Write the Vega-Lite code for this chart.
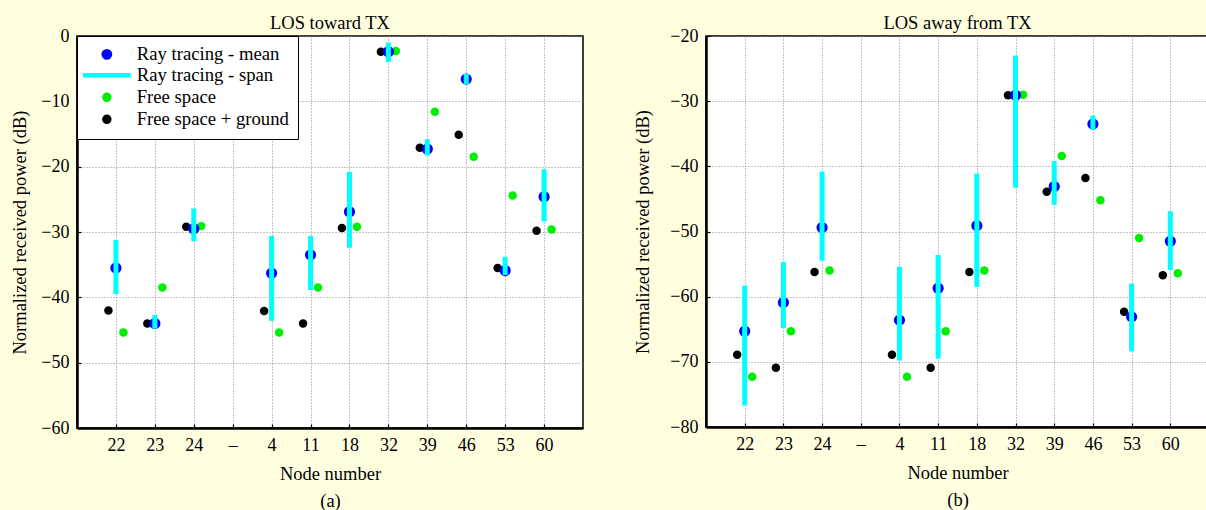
{
  "$schema": "https://vega.github.io/schema/vega-lite/v6.json",
  "background": "#FFFFE0",
  "padding": {"left": 10, "top": 12, "right": 0, "bottom": 0},
  "config": {
    "font": "Liberation Serif",
    "view": {"fill": "white", "stroke": "black", "strokeWidth": 1.5},
    "axis": {
      "labelFont": "Liberation Serif", "labelFontSize": 18, "labelColor": "black",
      "titleFont": "Liberation Serif", "titleFontSize": 18.5, "titleFontWeight": "normal", "titleColor": "black",
      "domainColor": "black", "domainWidth": 2.5, "ticks": true, "tickSize": -4, "tickColor": "black", "tickWidth": 1.2,
      "gridColor": "#8a8a8a", "gridDash": [1, 2], "gridWidth": 1, "labelPadding": 12
    },
    "title": {"font": "Liberation Serif", "fontSize": 18.5, "fontWeight": "normal", "color": "black", "offset": -5},
    "concat": {"spacing": 49}
  },
  "datasets": {
    "a": [
      {"node": "22", "mean": -35.5, "lo": -39.5, "hi": -31.2, "fs": -45.4, "fsg": -42.0},
      {"node": "23", "mean": -44.0, "lo": -44.8, "hi": -42.7, "fs": -38.5, "fsg": -44.0},
      {"node": "24", "mean": -29.5, "lo": -31.4, "hi": -26.4, "fs": -29.1, "fsg": -29.2},
      {"node": "4", "mean": -36.3, "lo": -43.6, "hi": -30.6, "fs": -45.4, "fsg": -42.1},
      {"node": "11", "mean": -33.5, "lo": -38.9, "hi": -30.6, "fs": -38.5, "fsg": -44.0},
      {"node": "18", "mean": -26.9, "lo": -32.4, "hi": -20.8, "fs": -29.2, "fsg": -29.4},
      {"node": "32", "mean": -2.4, "lo": -4.0, "hi": -1.0, "fs": -2.3, "fsg": -2.4},
      {"node": "39", "mean": -17.3, "lo": -18.3, "hi": -15.8, "fs": -11.6, "fsg": -17.1},
      {"node": "46", "mean": -6.6, "lo": -7.4, "hi": -5.8, "fs": -18.5, "fsg": -15.1},
      {"node": "53", "mean": -35.9, "lo": -36.6, "hi": -33.8, "fs": -24.4, "fsg": -35.5},
      {"node": "60", "mean": -24.6, "lo": -28.4, "hi": -20.4, "fs": -29.6, "fsg": -29.8}
    ],
    "b": [
      {"node": "22", "mean": -65.3, "lo": -76.7, "hi": -58.3, "fs": -72.3, "fsg": -68.9},
      {"node": "23", "mean": -60.9, "lo": -64.8, "hi": -54.7, "fs": -65.3, "fsg": -70.9},
      {"node": "24", "mean": -49.4, "lo": -54.5, "hi": -40.8, "fs": -56.0, "fsg": -56.2},
      {"node": "4", "mean": -63.6, "lo": -69.8, "hi": -55.4, "fs": -72.3, "fsg": -68.9},
      {"node": "11", "mean": -58.7, "lo": -69.5, "hi": -53.6, "fs": -65.3, "fsg": -70.9},
      {"node": "18", "mean": -49.1, "lo": -58.5, "hi": -41.1, "fs": -56.0, "fsg": -56.2},
      {"node": "32", "mean": -29.1, "lo": -43.3, "hi": -23.0, "fs": -29.0, "fsg": -29.1},
      {"node": "39", "mean": -43.1, "lo": -45.9, "hi": -39.2, "fs": -38.4, "fsg": -43.9},
      {"node": "46", "mean": -33.5, "lo": -34.4, "hi": -32.2, "fs": -45.2, "fsg": -41.8},
      {"node": "53", "mean": -63.1, "lo": -68.4, "hi": -58.0, "fs": -51.0, "fsg": -62.3},
      {"node": "60", "mean": -51.5, "lo": -55.9, "hi": -46.9, "fs": -56.4, "fsg": -56.7}
    ]
  },
  "hconcat": [
    {
      "width": 506,
      "height": 392,
      "title": "LOS toward TX",
      "data": {"name": "a"},
      "encoding": {
        "x": {
          "field": "node", "type": "ordinal",
          "scale": {"type": "point", "padding": 1, "domain": ["22", "23", "24", "–", "4", "11", "18", "32", "39", "46", "53", "60"]},
          "axis": {"title": ["Node number", "(a)"], "labelAngle": 0, "grid": true, "titlePadding": 10, "titleLineHeight": 27}
        }
      },
      "layer": [
        {
          "mark": {"type": "point", "filled": true, "size": 72, "xOffset": -7.5, "opacity": 1},
          "encoding": {
            "y": {"field": "fsg", "type": "quantitative", "scale": {"domain": [-60, 0]}, "axis": {"title": "Normalized received power (dB)", "values": [-60, -50, -40, -30, -20, -10, 0], "grid": true, "titlePadding": 11}},
            "color": {
              "datum": "Free space + ground", "type": "nominal",
              "scale": {"domain": ["Ray tracing - mean", "Ray tracing - span", "Free space", "Free space + ground"], "range": ["#0000ff", "#00ffff", "#00ee00", "#000000"]},
              "legend": {
                "orient": "none", "legendX": 0, "legendY": 0, "title": null,
                "fillColor": "white", "strokeColor": "black", "padding": 9,
                "labelFont": "Liberation Serif", "labelFontSize": 18.7, "labelColor": "black",
                "symbolSize": 100, "rowPadding": 0, "labelOffset": 20.5, "symbolOffset": 11.5, "cornerRadius": 0,
                "encoding": {
                  "symbols": {
                    "shape": {"value": {"expr": "datum.value === 'Ray tracing - span' ? 'M-4.77,0H4.77' : 'circle'"}},
                    "size": {"value": {"expr": "datum.value === 'Ray tracing - span' ? 100 : datum.value === 'Ray tracing - mean' ? 50 : 32"}},
                    "fill": {"value": {"expr": "datum.value === 'Free space' ? '#00ee00' : datum.value === 'Free space + ground' ? '#000000' : 'white'"}},
                    "stroke": {"value": {"expr": "datum.value === 'Ray tracing - mean' ? '#0000ff' : datum.value === 'Ray tracing - span' ? '#00ffff' : 'transparent'"}},
                    "strokeWidth": {"value": {"expr": "datum.value === 'Ray tracing - span' ? 4.5 : 3.8"}}
                  }
                }
              }
            }
          }
        },
        {
          "mark": {"type": "point", "filled": true, "size": 72, "xOffset": 7.5, "opacity": 1},
          "encoding": {
            "y": {"field": "fs", "type": "quantitative", "axis": {"title": "Normalized received power (dB)"}},
            "color": {"datum": "Free space", "type": "nominal"}
          }
        },
        {
          "mark": {"type": "point", "filled": false, "size": 55, "strokeWidth": 3.8, "opacity": 1},
          "encoding": {
            "y": {"field": "mean", "type": "quantitative", "axis": {"title": "Normalized received power (dB)"}},
            "color": {"datum": "Ray tracing - mean", "type": "nominal"}
          }
        },
        {
          "mark": {"type": "rule", "strokeWidth": 5, "opacity": 1},
          "encoding": {
            "y": {"field": "lo", "type": "quantitative", "axis": {"title": "Normalized received power (dB)"}},
            "y2": {"field": "hi"},
            "color": {"datum": "Ray tracing - span", "type": "nominal"}
          }
        }
      ]
    },
    {
      "width": 503,
      "height": 391,
      "title": "LOS away from TX",
      "data": {"name": "b"},
      "encoding": {
        "x": {
          "field": "node", "type": "ordinal",
          "scale": {"type": "point", "padding": 1, "domain": ["22", "23", "24", "–", "4", "11", "18", "32", "39", "46", "53", "60"]},
          "axis": {"title": ["Node number", "(b)"], "labelAngle": 0, "grid": true, "titlePadding": 10, "titleLineHeight": 27}
        }
      },
      "layer": [
        {
          "mark": {"type": "point", "filled": true, "size": 72, "xOffset": -7.5, "opacity": 1, "color": "#000000"},
          "encoding": {
            "y": {"field": "fsg", "type": "quantitative", "scale": {"domain": [-80, -20]}, "axis": {"title": "Normalized received power (dB)", "values": [-80, -70, -60, -50, -40, -30, -20], "grid": true, "titlePadding": 17}}
          }
        },
        {
          "mark": {"type": "point", "filled": true, "size": 72, "xOffset": 7.5, "opacity": 1, "color": "#00ee00"},
          "encoding": {
            "y": {"field": "fs", "type": "quantitative", "axis": {"title": "Normalized received power (dB)"}}
          }
        },
        {
          "mark": {"type": "point", "filled": false, "size": 55, "strokeWidth": 3.8, "opacity": 1, "color": "#0000ff"},
          "encoding": {
            "y": {"field": "mean", "type": "quantitative", "axis": {"title": "Normalized received power (dB)"}}
          }
        },
        {
          "mark": {"type": "rule", "strokeWidth": 5, "opacity": 1, "color": "#00ffff"},
          "encoding": {
            "y": {"field": "lo", "type": "quantitative", "axis": {"title": "Normalized received power (dB)"}},
            "y2": {"field": "hi"}
          }
        }
      ]
    }
  ]
}
